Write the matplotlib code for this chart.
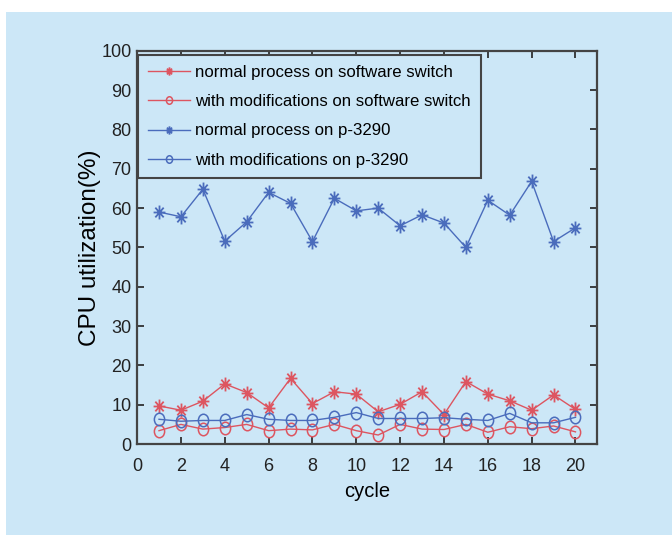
# -*- coding: utf-8 -*-
"""
CPU utilization per cycle for the normal process and the modified one,
on the software switch and on the p-3290.
"""
import matplotlib.pyplot as plt
from matplotlib.patches import Rectangle
from matplotlib.path import Path
from matplotlib.transforms import Affine2D

# Data
cycle = list(range(1, 21))
sw_normal = [9.7, 8.6, 10.9, 15.3, 13.1, 9.2, 16.7, 10.3, 13.3, 12.7,
             8.2, 10.1, 13.3, 7.5, 15.9, 12.7, 11.0, 8.6, 12.5, 8.8]
sw_modified = [3.4, 5.0, 3.8, 4.2, 5.0, 3.4, 3.8, 3.6, 5.0, 3.4,
               2.3, 5.0, 3.8, 3.7, 5.0, 3.0, 4.4, 3.9, 4.6, 3.1]
p3290_normal = [59.0, 57.8, 64.8, 51.6, 56.5, 64.0, 61.2, 51.5, 62.5, 59.3,
                60.0, 55.5, 58.3, 56.2, 50.0, 62.0, 58.2, 66.8, 51.5, 55.0]
p3290_modified = [6.3, 5.8, 6.0, 6.0, 7.5, 6.3, 6.0, 6.0, 6.8, 8.0,
                  6.5, 6.5, 6.5, 6.7, 6.3, 6.0, 7.8, 5.4, 5.4, 6.8]
labels = ["normal process on software switch",
          "with modifications on software switch",
          "normal process on p-3290",
          "with modifications on p-3290"]

red = "#dd5560"
blue = "#4a6cbc"
bg = "#cce7f7"

# MATLAB-like markers, a bit taller than wide like the reference
ellipse = Path.unit_circle().transformed(Affine2D().scale(0.82, 1.0))
star = Path([(0, -1), (0, 1), (-0.85, 0), (0.85, 0),
             (-0.6, -0.7), (0.6, 0.7), (-0.6, 0.7), (0.6, -0.7)],
            [Path.MOVETO, Path.LINETO] * 4)

plt.rcParams['font.family'] = ['Liberation Sans', 'DejaVu Sans']

fig = plt.figure(figsize=(6.72, 5.35), dpi=100)
fig.patch.set_facecolor("white")
# light blue panel behind the plot
fig.patches.append(Rectangle((6 / 672, 0), 1, (535 - 12) / 535,
                             transform=fig.transFigure, facecolor=bg,
                             edgecolor="none", zorder=-10))

ax = fig.add_axes([0.204, 0.170, 0.685, 0.735])
ax.set_facecolor(bg)

ax.plot(cycle, sw_normal, color=red, marker=star, markersize=10,
        markeredgewidth=1.3, linewidth=1, label=labels[0])
ax.plot(cycle, sw_modified, color=red, marker=ellipse, markersize=9,
        markerfacecolor="none", markeredgewidth=1.1, linewidth=1,
        label=labels[1])
ax.plot(cycle, p3290_normal, color=blue, marker=star, markersize=10,
        markeredgewidth=1.3, linewidth=1, label=labels[2])
ax.plot(cycle, p3290_modified, color=blue, marker=ellipse, markersize=9,
        markerfacecolor="none", markeredgewidth=1.1, linewidth=1,
        label=labels[3])

ax.set_xlim(0, 21)
ax.set_ylim(0, 100)
ax.set_xticks(range(0, 21, 2))
ax.set_yticks(range(0, 101, 10))
ax.tick_params(direction="in", top=True, right=True, length=5,
               width=1.2, labelsize=13, colors="#222222")
ax.tick_params(axis="x", pad=10)
ax.tick_params(axis="y", pad=4)
for s in ax.spines.values():
    s.set_linewidth(1.6)
    s.set_color("#444444")

ax.set_xlabel("cycle", fontsize=14.5, labelpad=5)
ax.set_ylabel("CPU utilization(%)", fontsize=17.5, labelpad=0)

leg = ax.legend(loc="upper left", bbox_to_anchor=(0.002, 0.99),
                fontsize=12.1, frameon=True, fancybox=False,
                borderaxespad=0, handlelength=2.5, handletextpad=0.3,
                labelspacing=0.85, borderpad=0.6, markerscale=0.6)
leg.get_frame().set_edgecolor("#444444")
leg.get_frame().set_linewidth(1.5)
leg.get_frame().set_facecolor(bg)
leg.get_frame().set_alpha(1)

plt.savefig("out.png", dpi=100, facecolor=fig.get_facecolor())
